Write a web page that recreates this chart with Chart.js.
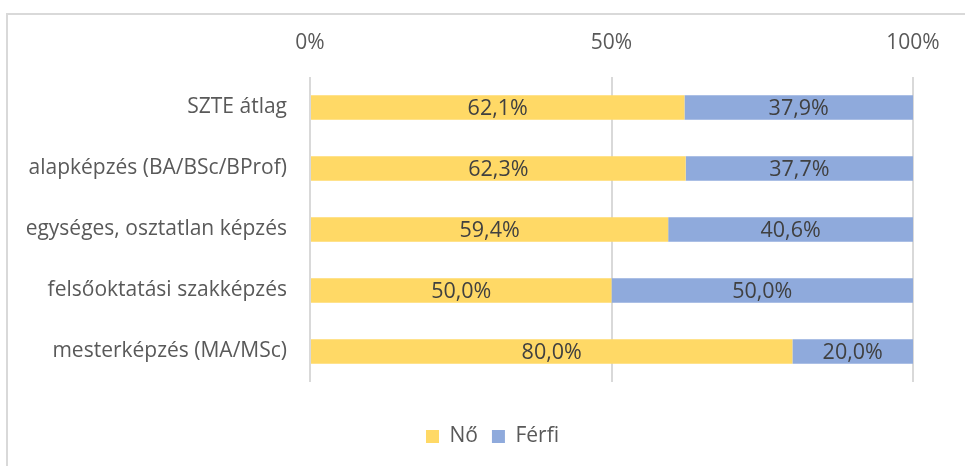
<!DOCTYPE html>
<html><head><meta charset="utf-8">
<script src="https://cdn.jsdelivr.net/npm/chart.js@4"></script>
<style>
html,body{margin:0;padding:0;background:#fff;}
#wrap{position:relative;width:965px;height:466px;overflow:hidden;}
#frame{position:absolute;left:6px;top:13px;width:1000px;height:500px;border-top:2px solid #d9d9d9;border-left:2px solid #d9d9d9;}
canvas{position:absolute;left:0;top:0;}
</style></head>
<body><div id="wrap"><div id="frame"></div><canvas id="c" width="965" height="466"></canvas></div>
<script>
const categories = ["SZTE átlag","alapképzés (BA/BSc/BProf)","egységes, osztatlan képzés","felsőoktatási szakképzés","mesterképzés (MA/MSc)"];
const seriesNames = ["Nő","Férfi"];
const noValues = [62.1,62.3,59.4,50.0,80.0];
const ferfiValues = [37.9,37.7,40.6,50.0,20.0];
const tickValues = [0,50,100];
const colors = ["#FFD966","#8FAADC"];
const FONT = "'Open Sans', Lato, sans-serif";
const FS = 21;

const labelPlugin = {
  id:'centerLabels',
  afterDatasetsDraw(chart){
    const ctx = chart.ctx;
    ctx.save();
    ctx.font = "21.5px " + FONT;
    ctx.fillStyle = "#404040";
    ctx.textAlign = "center";
    ctx.textBaseline = "middle";
    chart.data.datasets.forEach((ds,i)=>{
      chart.getDatasetMeta(i).data.forEach((bar,j)=>{
        const cx = (bar.x + bar.base)/2;
        ctx.fillText(ds.data[j].toFixed(1).replace('.',',')+'%', cx, bar.y+1);
      });
    });
    ctx.restore();
  }
};

new Chart(document.getElementById('c'),{
  type:'bar',
  data:{labels:categories,datasets:[
    {label:seriesNames[0],data:noValues,backgroundColor:colors[0],barPercentage:0.4,categoryPercentage:1,xAxisID:'x',yAxisID:'y'},
    {label:seriesNames[1],data:ferfiValues,backgroundColor:colors[1],barPercentage:0.4,categoryPercentage:1,xAxisID:'x',yAxisID:'y'}
  ]},
  options:{
    indexAxis:'y',responsive:false,animation:false,
    layout:{padding:{top:28,left:20,right:0,bottom:9}},
    plugins:{
      legend:{position:'bottom',labels:{boxWidth:13,boxHeight:13,color:'#595959',font:{family:FONT,size:FS},padding:14}},
      tooltip:{enabled:false}
    },
    scales:{
      x:{position:'top',stacked:true,min:0,max:100,
        afterBuildTicks(s){s.ticks=tickValues.map(v=>({value:v}));},
        afterFit(s){s.height=49;},
        ticks:{color:'#595959',font:{family:FONT,size:FS},padding:21,callback:v=>v+'%'},
        grid:{color:'#d9d9d9',lineWidth:2,drawTicks:false},border:{display:false}},
      y:{stacked:true,
        afterFit(s){s.width=290;},
        ticks:{color:'#595959',font:{family:FONT,size:FS},padding:15},
        grid:{display:false},border:{display:false}},
      xb:{position:'bottom',axis:'x',display:true,
        afterFit(s){s.height=30;},
        ticks:{display:false},grid:{display:false,drawTicks:false},border:{display:false}},
      yr:{position:'right',axis:'y',display:true,
        afterFit(s){s.width=52;},
        ticks:{display:false},grid:{display:false,drawTicks:false},border:{display:false}}
    }
  },
  plugins:[labelPlugin]
});
</script></body></html>
